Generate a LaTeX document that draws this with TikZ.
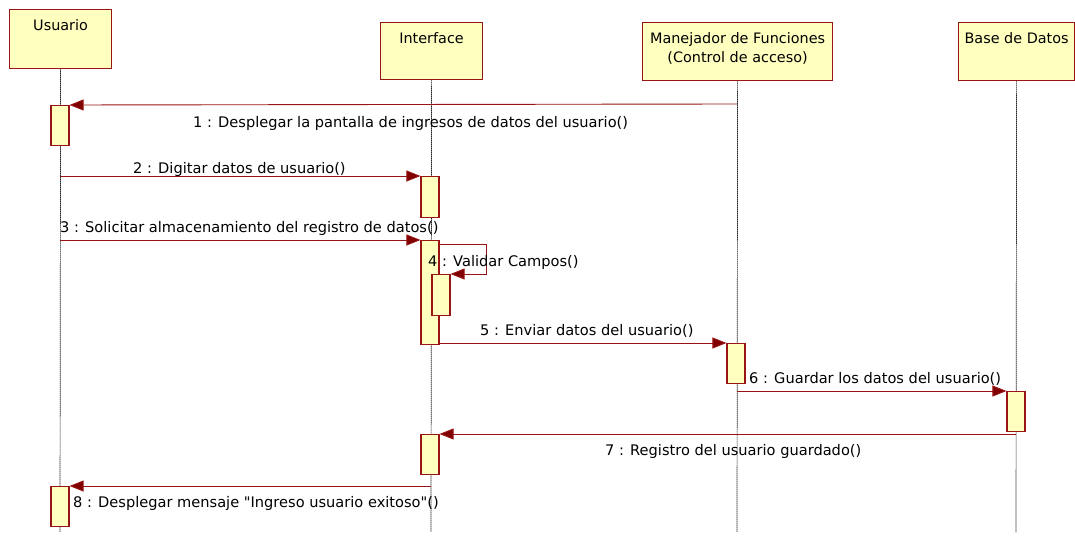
\documentclass[tikz,border=0pt]{standalone}
\usepackage{fontspec}
\newfontfamily\umlfont{DejaVu Sans}
\usetikzlibrary{arrows.meta}
\definecolor{umlred}{RGB}{153,20,20}
\definecolor{umlhead}{RGB}{128,0,0}
\definecolor{umlfill}{RGB}{255,255,192}
\begin{document}
\begin{tikzpicture}[x=1pt,y=-1pt,
  font=\umlfont\fontsize{14.6}{17}\selectfont,
  headbox/.style={draw=umlred,line width=1.2pt,fill=umlfill,inner sep=0pt,anchor=north west},
  headtext/.style={anchor=north,align=center,inner sep=0pt,font=\umlfont\fontsize{14.4}{19.5}\selectfont},
  life/.style={draw=black!85,line width=0.7pt,dash pattern=on 1.5pt off 0.5pt},
  act/.style={draw=umlred,line width=1.1pt,fill=umlfill,inner sep=0pt,minimum width=18pt,anchor=north},
  msg/.style={draw=umlred,line width=0.9pt,-{Triangle[length=14pt,width=11pt,fill=umlhead]}},
  lbl/.style={inner sep=0pt,anchor=base west}]
\useasboundingbox (0,0) rectangle (1075,537);
% head boxes
\node[headbox,minimum width=102pt,minimum height=59pt] (hu) at (9,9) {};
\node[headbox,minimum width=102pt,minimum height=57pt] (hi) at (380,22) {};
\node[headbox,minimum width=190pt,minimum height=58pt] (hm) at (642,22) {};
\node[headbox,minimum width=116pt,minimum height=58pt] (hb) at (958,22) {};
\node[headtext] (tu) at ([yshift=-10pt]hu.north) {Usuario};
\node[headtext] (ti) at ([yshift=-10pt]hi.north) {Interface};
\node[headtext] (tm) at ([yshift=-10pt]hm.north) {Manejador de Funciones\\(Control de acceso)};
\node[headtext] (tb) at ([yshift=-10pt]hb.north) {Base de Datos};
% lifeline ends
\coordinate (eu) at (60,532);
\coordinate (ei) at (431,532);
\coordinate (em) at (737,532);
\coordinate (eb) at (1016,532);
\draw[life] (hu.south) -- (eu);
\draw[life] (hi.south) -- (ei);
\draw[life] (hm.south) -- (em);
\draw[life] (hb.south) -- (eb);
% activations
\node[act,minimum height=40pt] (u1) at (60,105) {};
\node[act,minimum height=41pt] (i1) at (430,176) {};
\node[act,minimum height=104pt] (i2) at (430,240) {};
\node[act,minimum height=41pt] (i2b) at (441,274) {};
\node[act,minimum height=40pt] (m1) at (736,343) {};
\node[act,minimum height=40pt] (b1) at (1016,391) {};
\node[act,minimum height=40pt] (i3) at (430,434) {};
\node[act,minimum height=40pt] (u2) at (60,486) {};
% message endpoints on lifelines
\coordinate (s1) at (737,104);
\coordinate (s2) at (60,176);
\coordinate (s3) at (60,240);
\coordinate (s6) at (737,391);
\coordinate (s7) at (1016,434);
\coordinate (s8) at (431,486);
\coordinate (c4a) at (486,244);
\coordinate (c4b) at (486,274);
% messages
\draw[msg] (s1) -- (u1.north east);
\draw[msg] (s2) -- (i1.north west);
\draw[msg] (s3) -- (i2.north west);
\draw[msg] (i2.east |- c4a) -- (c4a) -- (c4b) -- (i2b.north east);
\draw[msg] (i2.east |- m1.north) -- (m1.north west);
\draw[msg] (s6) -- (b1.north west);
\draw[msg] (s7) -- (i3.north east);
\draw[msg] (s8) -- (u2.north east);
% labels
\node[lbl] (l1) at (193,128) {1 : Desplegar la pantalla de ingresos de datos del usuario()};
\node[lbl] (l2) at (133,174) {2 : Digitar datos de usuario()};
\node[lbl] (l3) at (60,233) {3 : Solicitar almacenamiento del registro de datos()};
\node[lbl] (l4) at (428,266) {4 : Validar Campos()};
\node[lbl] (l5) at (480,335) {5 : Enviar datos del usuario()};
\node[lbl] (l6) at (749,383) {6 : Guardar los datos del usuario()};
\node[lbl] (l7) at (605,455) {7 : Registro del usuario guardado()};
\node[lbl] (l8) at (73,507) {8 : Desplegar mensaje "Ingreso usuario exitoso"()};
\end{tikzpicture}
\end{document}
